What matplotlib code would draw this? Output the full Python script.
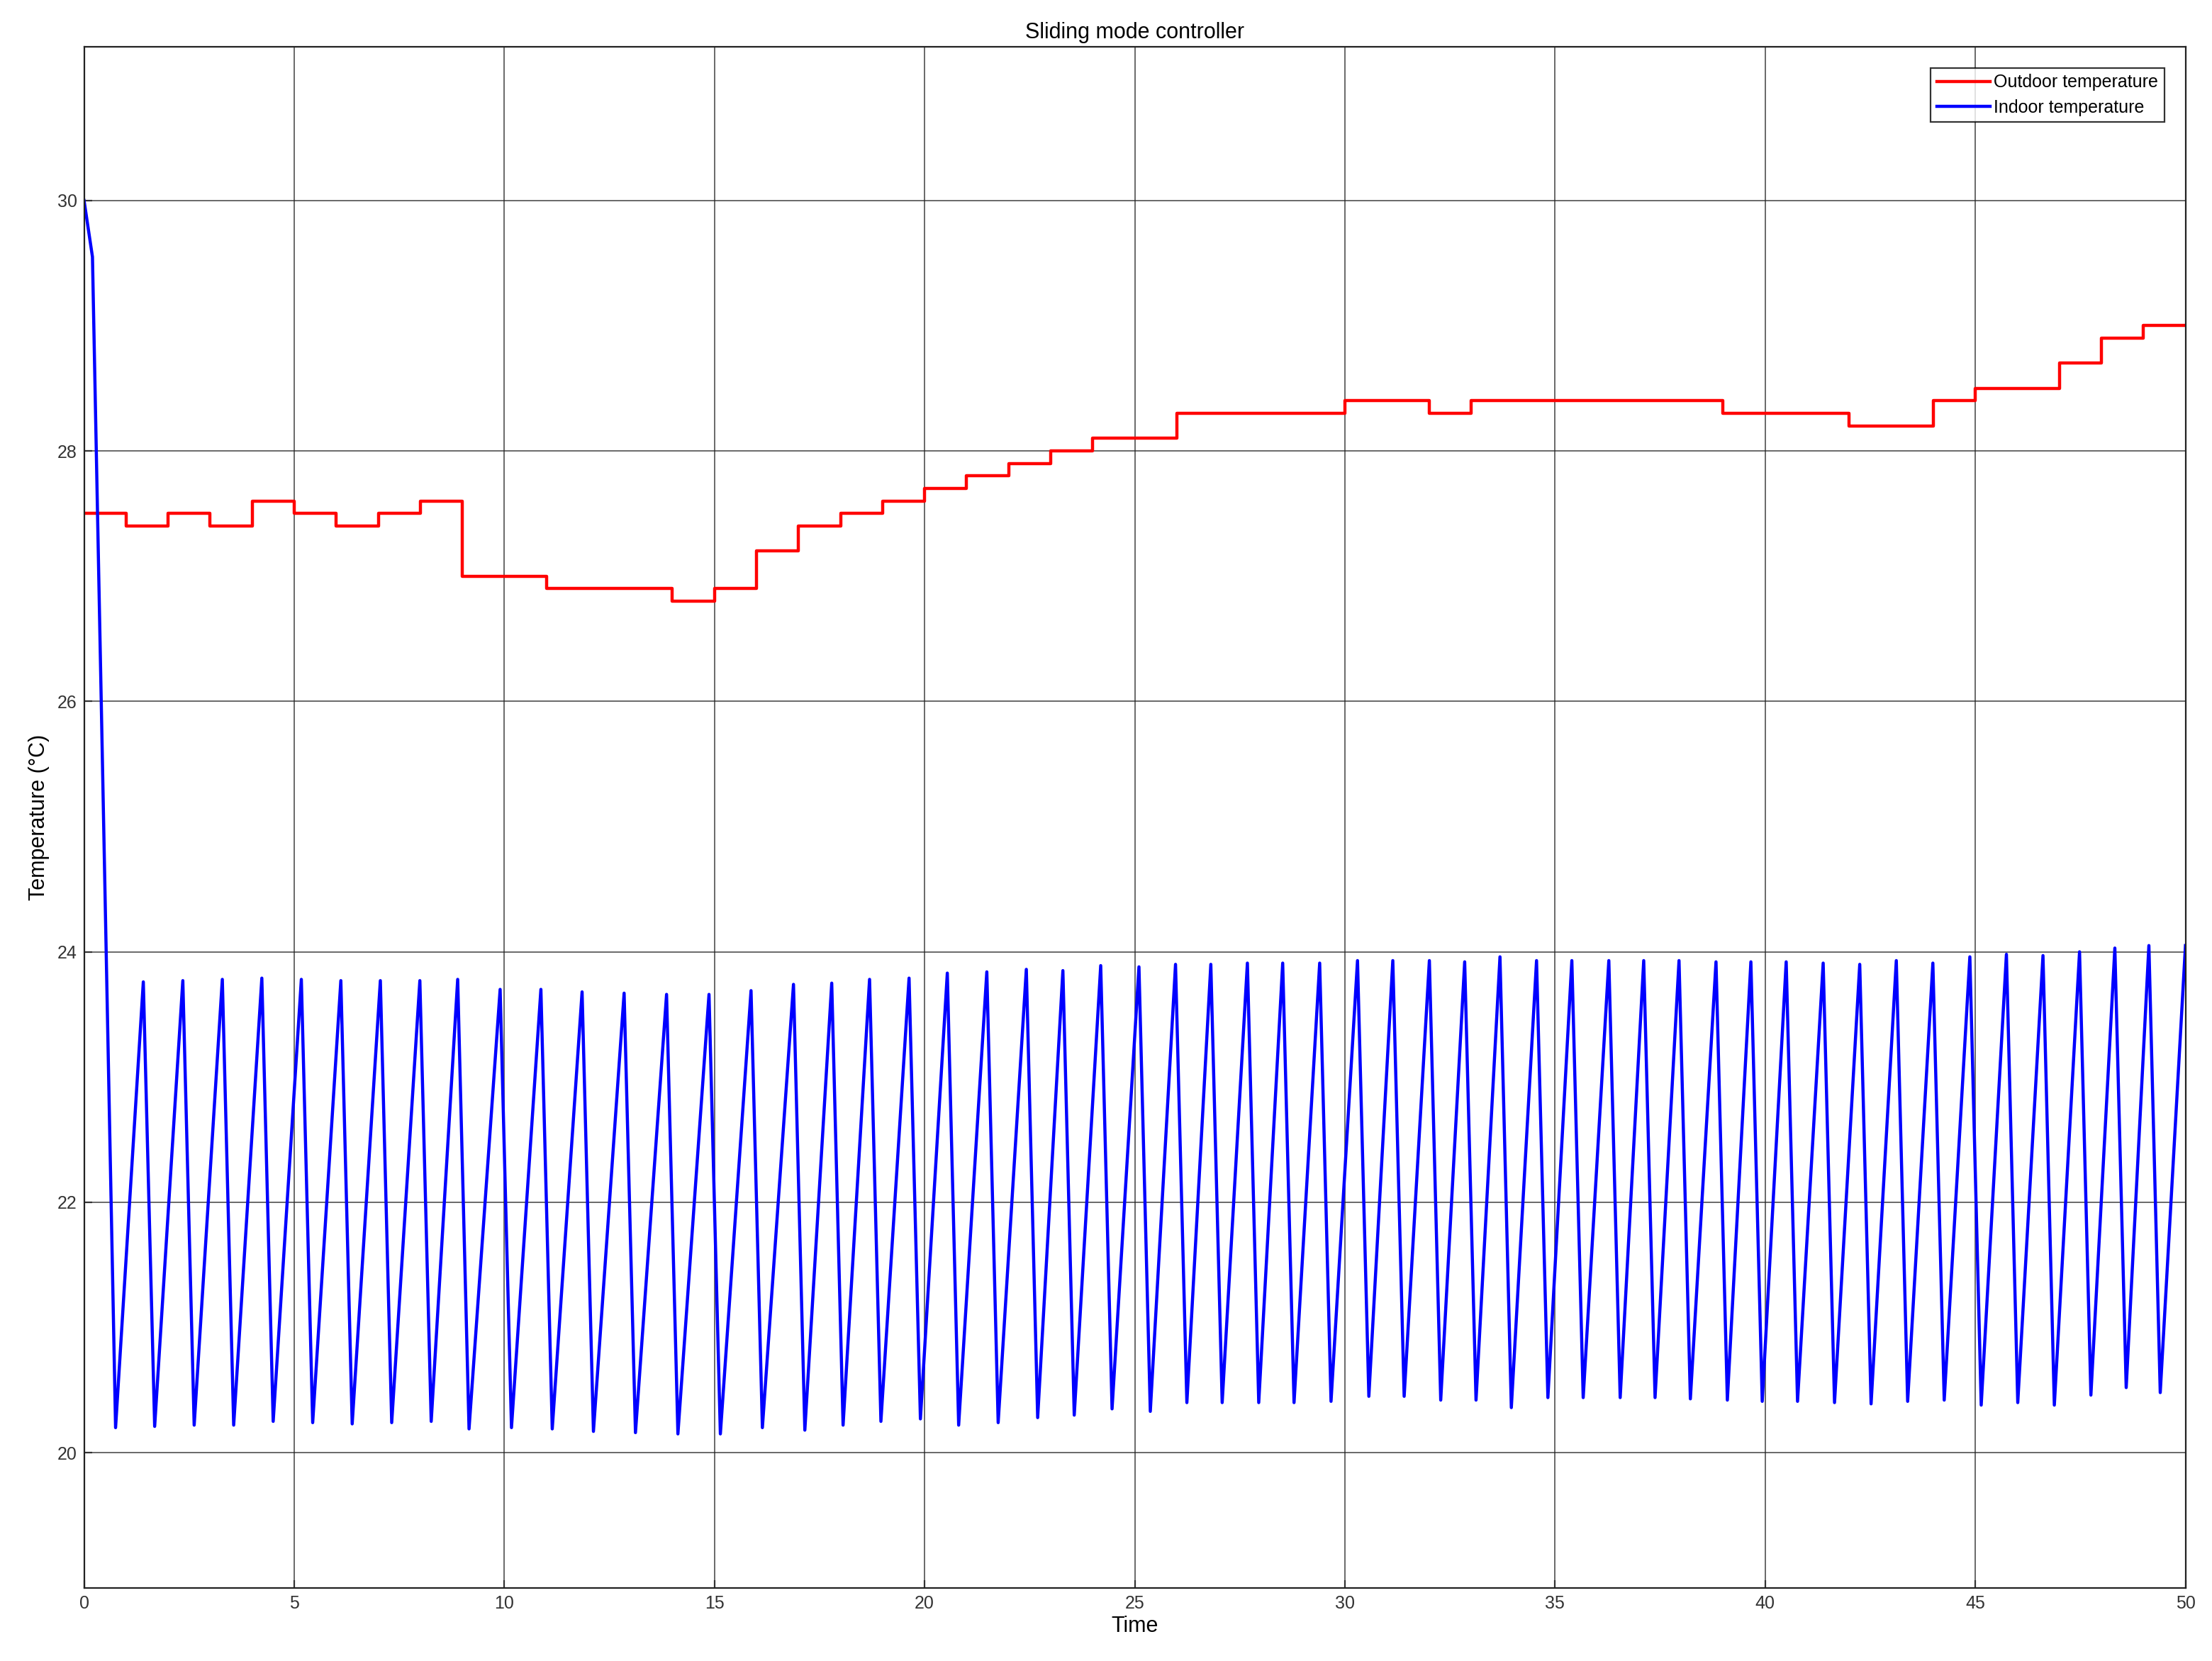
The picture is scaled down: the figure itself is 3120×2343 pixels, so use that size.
import numpy as np
import matplotlib
matplotlib.use('agg')
import matplotlib.pyplot as plt

plt.rcParams['font.family'] = ['Liberation Sans', 'DejaVu Sans']

# outdoor temperature: step edges and levels
out_edges = [0, 1, 2, 3, 4, 5, 6, 7, 8, 9, 11, 14, 15, 16, 17, 18, 19, 20, 21, 22, 23, 24,
             26, 30, 32, 33, 39, 42, 44, 45, 47, 48, 49, 50]
out_levels = [27.5, 27.4, 27.5, 27.4, 27.6, 27.5, 27.4, 27.5, 27.6, 27.0, 26.9, 26.8, 26.9,
              27.2, 27.4, 27.5, 27.6, 27.7, 27.8, 27.9, 28.0, 28.1, 28.3, 28.4, 28.3, 28.4,
              28.3, 28.2, 28.4, 28.5, 28.7, 28.9, 29.0]

# indoor temperature: start, then sawtooth peaks and troughs
start_t = [0.0, 0.2, 0.75]
start_v = [30.0, 29.55, 20.2]
peak_t = [1.41, 2.35, 3.29, 4.23, 5.17, 6.11, 7.05, 7.99, 8.89, 9.90, 10.87, 11.85, 12.85,
          13.86, 14.87, 15.87, 16.88, 17.79, 18.69, 19.63, 20.54, 21.48, 22.42, 23.29, 24.19,
          25.10, 25.97, 26.81, 27.68, 28.52, 29.40, 30.30, 31.14, 32.01, 32.85, 33.69, 34.56,
          35.40, 36.28, 37.11, 37.95, 38.83, 39.66, 40.50, 41.38, 42.25, 43.12, 43.99, 44.87,
          45.74, 46.61, 47.48, 48.32, 49.13, 50.0]
peak_v = [23.76, 23.77, 23.78, 23.79, 23.78, 23.77, 23.77, 23.77, 23.78, 23.70, 23.70, 23.68,
          23.67, 23.66, 23.66, 23.69, 23.74, 23.75, 23.78, 23.79, 23.83, 23.84, 23.86, 23.85,
          23.89, 23.88, 23.90, 23.90, 23.91, 23.91, 23.91, 23.93, 23.93, 23.93, 23.92, 23.96,
          23.93, 23.93, 23.93, 23.93, 23.93, 23.92, 23.92, 23.92, 23.91, 23.90, 23.93, 23.91,
          23.96, 23.98, 23.97, 24.00, 24.03, 24.05, 24.05]
trough_t = [1.68, 2.62, 3.56, 4.50, 5.44, 6.38, 7.32, 8.26, 9.16, 10.17, 11.14, 12.12, 13.12,
            14.13, 15.14, 16.14, 17.15, 18.06, 18.96, 19.90, 20.81, 21.75, 22.69, 23.56, 24.46,
            25.37, 26.24, 27.08, 27.95, 28.79, 29.67, 30.57, 31.41, 32.28, 33.12, 33.96, 34.83,
            35.67, 36.55, 37.38, 38.22, 39.10, 39.93, 40.77, 41.65, 42.52, 43.39, 44.26, 45.14,
            46.01, 46.88, 47.75, 48.59, 49.40]
trough_v = [20.21, 20.22, 20.22, 20.25, 20.24, 20.23, 20.24, 20.25, 20.19, 20.20, 20.19, 20.17,
            20.16, 20.15, 20.15, 20.20, 20.18, 20.22, 20.25, 20.27, 20.22, 20.24, 20.28, 20.30,
            20.35, 20.33, 20.40, 20.40, 20.40, 20.40, 20.41, 20.45, 20.45, 20.42, 20.42, 20.36,
            20.44, 20.44, 20.44, 20.44, 20.43, 20.42, 20.41, 20.41, 20.40, 20.39, 20.41, 20.42,
            20.38, 20.40, 20.38, 20.46, 20.52, 20.48]

in_t = list(start_t)
in_v = list(start_v)
for i in range(len(peak_t)):
    in_t.append(peak_t[i]); in_v.append(peak_v[i])
    if i < len(trough_t):
        in_t.append(trough_t[i]); in_v.append(trough_v[i])

fig = plt.figure(figsize=(15.6, 11.715), dpi=200)
ax = fig.add_axes([0.038, 0.044, 0.950, 0.928])

ax.step(out_edges, out_levels + [out_levels[-1]], where='post', color='#ff0000', lw=1.6,
        label='Outdoor temperature')
ax.plot(in_t, in_v, color='#0000ff', lw=1.6, label='Indoor temperature')

ax.set_xlim(0, 50)
ax.set_ylim(18.92, 31.23)
ax.set_xticks(np.arange(0, 51, 5))
ax.set_yticks(np.arange(20, 31, 2))
ax.grid(True, color='#222222', lw=0.6, alpha=0.8)
ax.tick_params(labelsize=9, direction='in', length=4, color='#333333', labelcolor='#333333')
for s in ax.spines.values():
    s.set_color('#222222')
ax.set_title('Sliding mode controller', fontsize=11, pad=4)
ax.set_xlabel('Time', fontsize=11, labelpad=2)
ax.set_ylabel('Temperature (°C)', fontsize=11, labelpad=4)
leg = ax.legend(loc='upper right', fontsize=9, fancybox=False, edgecolor='black',
                handlelength=3, borderpad=0.35, labelspacing=0.45, handletextpad=0.2,
                borderaxespad=1.2)
leg.get_frame().set_linewidth(0.8)

plt.savefig('out.png')
